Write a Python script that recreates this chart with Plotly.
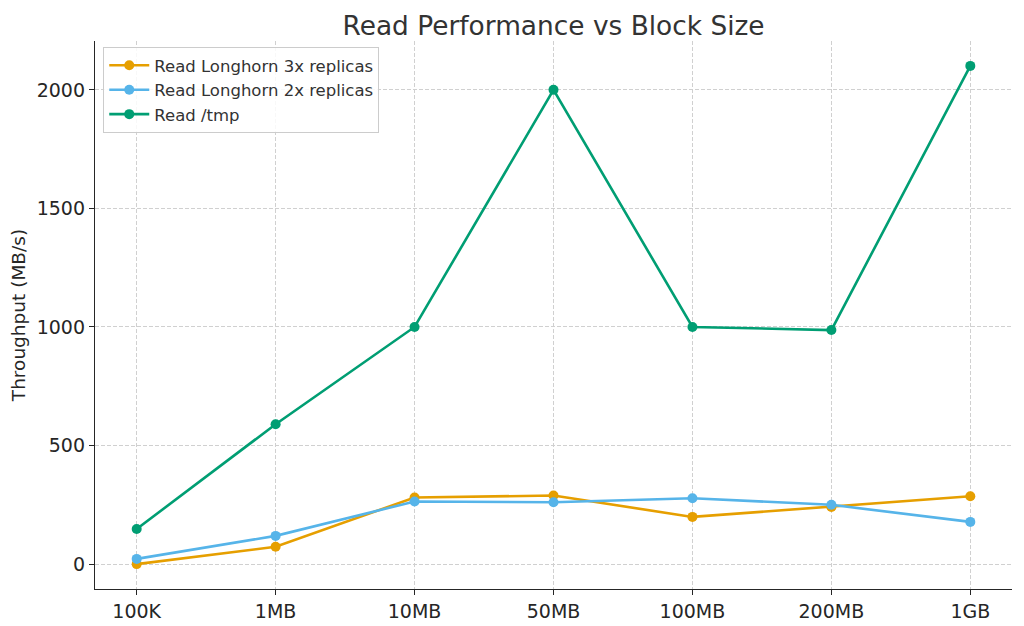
import plotly.graph_objects as go

block_sizes = ["100K", "1MB", "10MB", "50MB", "100MB", "200MB", "1GB"]
read_3x = [0, 73, 281, 289, 199, 241, 286]
read_2x = [22, 119, 264, 261, 278, 250, 178]
read_tmp = [148, 590, 1000, 2000, 1000, 987, 2101]
y_ticks = [0, 500, 1000, 1500, 2000]

series = [
    ("Read Longhorn 3x replicas", read_3x, "#E69F00"),
    ("Read Longhorn 2x replicas", read_2x, "#56B4E9"),
    ("Read /tmp", read_tmp, "#009E73"),
]

fig = go.Figure()
for name, vals, color in series:
    fig.add_trace(go.Scatter(
        x=block_sizes, y=vals, name=name, mode="lines+markers",
        line=dict(color=color, width=2.6),
        marker=dict(color=color, size=10),
    ))

font = "DejaVu Sans, sans-serif"
fig.update_layout(
    width=1016, height=618,
    margin=dict(l=87, r=12, t=33, b=37, autoexpand=False),
    paper_bgcolor="white", plot_bgcolor="white",
    font=dict(family=font, size=18, color="#262626"),
    title=dict(text="Read Performance vs Block Size", x=0.537, xanchor="center",
               y=0.986, yanchor="top", font=dict(size=26.4, color="#333333")),
    showlegend=True,
    legend=dict(x=0.009, y=0.989, xanchor="left", yanchor="top",
                bgcolor="rgba(255,255,255,0.85)", bordercolor="#cccccc", borderwidth=1,
                font=dict(size=16.5, color="#333333"), tracegroupgap=0,
                itemwidth=40),
    xaxis=dict(
        type="category", range=[-0.3, 6.3], automargin=False,
        showline=True, linecolor="#262626", linewidth=1.3,
        ticks="outside", ticklen=5, tickcolor="#262626",
        showgrid=True, gridcolor="#d0d0d0", griddash="4px,2px", gridwidth=1,
        zeroline=False, tickfont=dict(size=19),
    ),
    yaxis=dict(
        range=[-105, 2206], tickvals=y_ticks, automargin=False,
        showline=True, linecolor="#262626", linewidth=1.3,
        ticks="outside", ticklen=5, tickcolor="#262626",
        showgrid=True, gridcolor="#d0d0d0", griddash="4px,2px", gridwidth=1,
        zeroline=False, tickfont=dict(size=19),
        title=dict(text="Throughput (MB/s)", font=dict(size=18.5), standoff=14),
    ),
)

fig.write_html("out.html")
